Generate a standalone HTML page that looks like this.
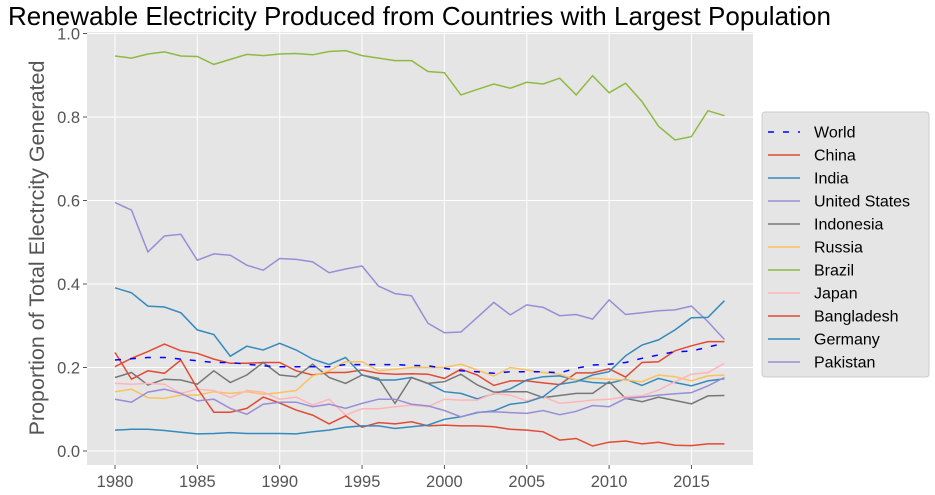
<!DOCTYPE html>
<html><head><meta charset="utf-8"><style>
body{margin:0;background:#fff;}
svg{display:block;font-family:"Liberation Sans","DejaVu Sans",sans-serif;}
</style></head><body>
<svg id="chart" width="935" height="495">
<rect x="87" y="32" width="666" height="433" fill="#E5E5E5"/>
<text x="8" y="25" font-size="26" fill="#000" textLength="823">Renewable Electricity Produced from Countries with Largest Population</text>
<g id="grid"></g><g id="series"></g><g id="ticks"></g>
<text transform="translate(44,248) rotate(-90)" text-anchor="middle" font-size="21.5" fill="#555">Proportion of Total Electrcity Generated</text>
<g id="legend"></g>
</svg>
<script>
const years = [];
for (let y = 1980; y <= 2017; y++) years.push(y);
const seriesNames = ["World","China","India","United States","Indonesia","Russia","Brazil","Japan","Bangladesh","Germany","Pakistan"];
const seriesColors = ["#0000FF","#E24A33","#348ABD","#988ED5","#777777","#FBC15E","#8EBA42","#FFB5B8","#E24A33","#348ABD","#988ED5"];
const world = [0.218,0.221,0.224,0.224,0.220,0.216,0.212,0.212,0.208,0.204,0.202,0.202,0.202,0.202,0.207,0.207,0.207,0.207,0.205,0.204,0.198,0.192,0.190,0.186,0.190,0.190,0.190,0.187,0.198,0.206,0.208,0.212,0.222,0.230,0.238,0.239,0.249,0.258];
const china = [0.202,0.222,0.238,0.256,0.240,0.234,0.220,0.210,0.210,0.212,0.212,0.192,0.182,0.188,0.188,0.194,0.186,0.184,0.185,0.184,0.174,0.196,0.182,0.157,0.168,0.168,0.163,0.159,0.187,0.187,0.197,0.177,0.212,0.214,0.240,0.252,0.262,0.262];
const india = [0.391,0.379,0.347,0.345,0.331,0.290,0.279,0.227,0.251,0.242,0.258,0.242,0.220,0.207,0.224,0.182,0.170,0.170,0.176,0.162,0.142,0.138,0.125,0.137,0.149,0.170,0.178,0.180,0.170,0.164,0.162,0.172,0.157,0.174,0.164,0.156,0.168,0.173];
const unitedStates = [0.595,0.577,0.477,0.515,0.519,0.457,0.472,0.469,0.445,0.433,0.461,0.459,0.453,0.427,0.436,0.443,0.395,0.377,0.372,0.306,0.283,0.285,0.320,0.356,0.326,0.350,0.344,0.324,0.327,0.316,0.362,0.327,0.331,0.336,0.338,0.347,0.310,0.267];
const indonesia = [0.176,0.188,0.158,0.172,0.170,0.160,0.192,0.164,0.182,0.212,0.182,0.178,0.208,0.176,0.162,0.182,0.174,0.114,0.176,0.162,0.166,0.184,0.158,0.141,0.142,0.142,0.128,0.133,0.138,0.138,0.166,0.126,0.118,0.129,0.121,0.113,0.132,0.133];
const russia = [0.142,0.148,0.128,0.126,0.134,0.134,0.142,0.138,0.142,0.136,0.140,0.145,0.180,0.192,0.214,0.214,0.192,0.196,0.200,0.200,0.200,0.208,0.194,0.180,0.200,0.194,0.188,0.184,0.170,0.174,0.172,0.170,0.166,0.182,0.178,0.168,0.180,0.182];
const brazil = [0.946,0.941,0.951,0.956,0.946,0.945,0.926,0.938,0.950,0.947,0.951,0.952,0.949,0.957,0.959,0.947,0.941,0.935,0.935,0.909,0.906,0.853,0.866,0.879,0.869,0.883,0.879,0.893,0.853,0.899,0.858,0.881,0.837,0.778,0.745,0.753,0.815,0.803];
const japan = [0.162,0.160,0.162,0.160,0.138,0.148,0.145,0.128,0.145,0.141,0.124,0.129,0.110,0.124,0.086,0.101,0.101,0.106,0.110,0.106,0.124,0.122,0.122,0.138,0.134,0.120,0.130,0.114,0.118,0.122,0.124,0.130,0.132,0.146,0.166,0.184,0.188,0.210];
const bangladesh = [0.236,0.172,0.192,0.186,0.218,0.150,0.093,0.093,0.102,0.129,0.115,0.098,0.086,0.065,0.084,0.057,0.068,0.065,0.070,0.060,0.062,0.060,0.060,0.058,0.052,0.050,0.046,0.026,0.030,0.012,0.021,0.024,0.017,0.021,0.014,0.013,0.017,0.017];
const germany = [0.050,0.052,0.052,0.049,0.045,0.041,0.042,0.044,0.042,0.042,0.042,0.041,0.046,0.050,0.057,0.060,0.060,0.054,0.058,0.062,0.076,0.082,0.092,0.096,0.112,0.117,0.130,0.160,0.166,0.182,0.190,0.228,0.254,0.266,0.290,0.319,0.320,0.360];
const pakistan = [0.124,0.117,0.141,0.148,0.138,0.120,0.124,0.102,0.088,0.112,0.117,0.117,0.106,0.112,0.102,0.114,0.124,0.124,0.112,0.108,0.097,0.082,0.093,0.094,0.092,0.090,0.097,0.087,0.095,0.109,0.106,0.126,0.129,0.134,0.137,0.140,0.156,0.176];
const xTicks = [1980,1985,1990,1995,2000,2005,2010,2015];
const yTicks = [0.0,0.2,0.4,0.6,0.8,1.0];
const yTickLabels = ["0.0","0.2","0.4","0.6","0.8","1.0"];

const allSeries = [world,china,india,unitedStates,indonesia,russia,brazil,japan,bangladesh,germany,pakistan];
const X = yr => 115 + (yr - 1980) * 16.47;
const Y = v => 451 - v * 417.5;
const NS = "http://www.w3.org/2000/svg";
function mk(tag, attrs, parent){const e=document.createElementNS(NS,tag);for(const k in attrs)e.setAttribute(k,attrs[k]);parent.appendChild(e);return e;}
const grid=document.getElementById('grid'), ticks=document.getElementById('ticks'), ser=document.getElementById('series'), leg=document.getElementById('legend');
xTicks.forEach(t=>{
  const l=mk('line',{x1:X(t),x2:X(t),y1:32,y2:465,stroke:'#fff','stroke-width':1},grid);
  
  
  mk('line',{x1:X(t),x2:X(t),y1:465,y2:469,stroke:'#555'},ticks);
  const tx=mk('text',{x:X(t),y:487,'text-anchor':'middle','font-size':16.5,fill:'#555'},ticks);
  tx.textContent=t;
  
  
});
yTicks.forEach((t,i)=>{
  const l=mk('line',{x1:87,x2:753,y1:Y(t),y2:Y(t),stroke:'#fff','stroke-width':1},grid);
  
  
  mk('line',{x1:83,x2:87,y1:Y(t),y2:Y(t),stroke:'#555'},ticks);
  const tx=mk('text',{x:80,y:Y(t)+6,'text-anchor':'end','font-size':16.5,fill:'#555'},ticks);
  tx.textContent=yTickLabels[i];
  
  
});
const order=[1,2,3,4,5,6,7,8,9,10,0];
order.forEach(i=>{
  const d=allSeries[i].map((v,j)=>(j?'L':'M')+X(years[j]).toFixed(1)+','+Y(v).toFixed(1)).join('');
  const p=mk('path',{d:d,fill:'none',stroke:seriesColors[i],'stroke-width':1.5},ser);
  if(i===0)p.setAttribute('stroke-dasharray','6,9');
  
  
});
const box=mk('rect',{x:762,y:112,width:167,height:265,rx:3,fill:'#E5E5E5',stroke:'#ccc','stroke-width':1},leg);


seriesNames.forEach((n,i)=>{
  const y=132+i*23;
  const g=mk('g',{},leg);
  
  
  const l=mk('line',{x1:768,x2:800,y1:y,y2:y,stroke:seriesColors[i],'stroke-width':1.5},g);
  if(i===0)l.setAttribute('stroke-dasharray','6,9');
  const t=mk('text',{x:814,y:y+5.5,'font-size':16,fill:'#000'},g);
  t.textContent=n;
});
</script>
</body></html>
